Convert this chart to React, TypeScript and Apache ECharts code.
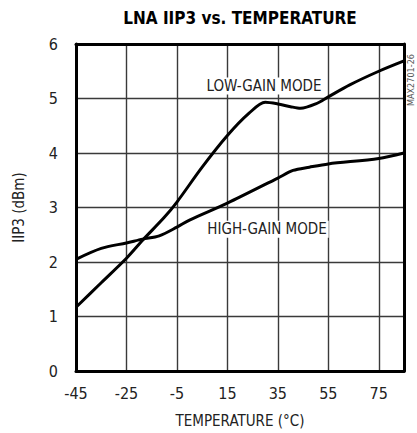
import React, { useEffect, useRef } from "react";
import * as echarts from "echarts";

const xTicks = [-45, -25, -5, 15, 35, 55, 75];
const yTicks = [0, 1, 2, 3, 4, 5, 6];
const xMin = -45;
const xMax = 85;

const lowGainT = [-45, -35, -25, -18.6, -10, -5, 5, 15, 23.6, 30, 35, 40, 44, 50, 55, 63.5, 75, 85];
const lowGainV = [1.17, 1.62, 2.07, 2.4, 2.82, 3.1, 3.74, 4.32, 4.73, 4.93, 4.9, 4.85, 4.82, 4.9, 5.03, 5.25, 5.5, 5.69];

const highGainT = [-45, -35, -25, -18.6, -12, -5, 0, 15, 35, 41, 47.5, 55, 75, 85];
const highGainV = [2.05, 2.25, 2.35, 2.42, 2.48, 2.64, 2.77, 3.08, 3.54, 3.68, 3.74, 3.8, 3.9, 4.0];

const FONT = "'DejaVu Sans Condensed', 'Liberation Sans Narrow', sans-serif";

export default function App() {
  const ref = useRef<HTMLDivElement>(null);
  useEffect(() => {
    if (!ref.current) return;
    const chart = echarts.init(ref.current, null, { renderer: "svg" });
    const zip = (t: number[], v: number[]) => t.map((x, i) => [x, v[i]]);
    const frameLine = { show: true, onZero: false, lineStyle: { color: "#000", width: 3 } };
    const split = { show: true, lineStyle: { color: "#3a3a3a", width: 1.4, type: "solid" } };
    const label = (margin: number, ticks: number[]) => ({
      fontFamily: FONT,
      fontSize: 16,
      color: "#222",
      margin,
      formatter: (v: number) => (ticks.includes(v) ? String(v) : ""),
    });
    const mark = (text: string, coord: number[]) => ({
      symbol: "rect",
      symbolSize: [1, 1],
      itemStyle: { color: "rgba(0,0,0,0)" },
      label: {
        show: true,
        position: "inside",
        formatter: text,
        fontFamily: FONT,
        fontSize: 15,
        color: "#222",
        backgroundColor: "#fff",
        padding: [1, 2],
      },
      data: [{ coord }],
    });
    const yMin = yTicks[0];
    const yMax = yTicks[yTicks.length - 1];
    chart.setOption({
      animation: false,
      backgroundColor: "#ffffff",
      textStyle: { fontFamily: FONT },
      graphic: [
        {
          type: "text",
          x: 240,
          y: 18,
          style: {
            text: "LNA IIP3 vs. TEMPERATURE",
            fontFamily: FONT,
            fontSize: 17,
            fontWeight: "bold",
            fill: "#000",
            textAlign: "center",
            textVerticalAlign: "middle",
          },
        },
        {
          type: "text",
          x: 411,
          y: 80,
          rotation: Math.PI / 2,
          style: {
            text: "MAX2701-26",
            fontFamily: FONT,
            fontSize: 9,
            fill: "#555",
            textAlign: "center",
            textVerticalAlign: "middle",
          },
        },
      ],
      grid: { left: 76, right: 13, top: 44, bottom: 62 },
      xAxis: [
        {
          type: "value",
          min: xMin,
          max: xMax,
          interval: 20,
          position: "bottom",
          name: "TEMPERATURE (°C)",
          nameLocation: "middle",
          nameGap: 42,
          nameTextStyle: { fontFamily: FONT, fontSize: 15, color: "#222" },
          axisLine: frameLine,
          axisTick: { show: false },
          axisLabel: { ...label(14, xTicks), showMaxLabel: false },
          splitLine: split,
        },
        {
          type: "value",
          min: xMin,
          max: xMax,
          interval: 20,
          position: "top",
          axisLine: frameLine,
          axisTick: { show: false },
          axisLabel: { show: false },
          splitLine: { show: false },
        },
      ],
      yAxis: [
        {
          type: "value",
          min: yMin,
          max: yMax,
          interval: 1,
          position: "left",
          name: "IIP3 (dBm)",
          nameLocation: "middle",
          nameGap: 50,
          nameTextStyle: { fontFamily: FONT, fontSize: 15, color: "#222" },
          axisLine: frameLine,
          axisTick: { show: false },
          axisLabel: label(18, yTicks),
          splitLine: split,
        },
        {
          type: "value",
          min: yMin,
          max: yMax,
          interval: 1,
          position: "right",
          axisLine: frameLine,
          axisTick: { show: false },
          axisLabel: { show: false },
          splitLine: { show: false },
        },
      ],
      series: [
        {
          type: "line",
          name: "LOW-GAIN MODE",
          data: zip(lowGainT, lowGainV),
          z: 3,
          smooth: 0.3,
          showSymbol: false,
          lineStyle: { color: "#000", width: 3 },
          markPoint: mark("LOW-GAIN MODE", [29.5, 5.23]),
        },
        {
          type: "line",
          name: "HIGH-GAIN MODE",
          data: zip(highGainT, highGainV),
          z: 3,
          smooth: 0.3,
          showSymbol: false,
          lineStyle: { color: "#000", width: 3 },
          markPoint: mark("HIGH-GAIN MODE", [30.7, 2.6]),
        },
      ],
    });
    return () => chart.dispose();
  }, []);
  return <div ref={ref} style={{ width: 417, height: 433, position: "absolute", left: 0, top: 0 }} />;
}
